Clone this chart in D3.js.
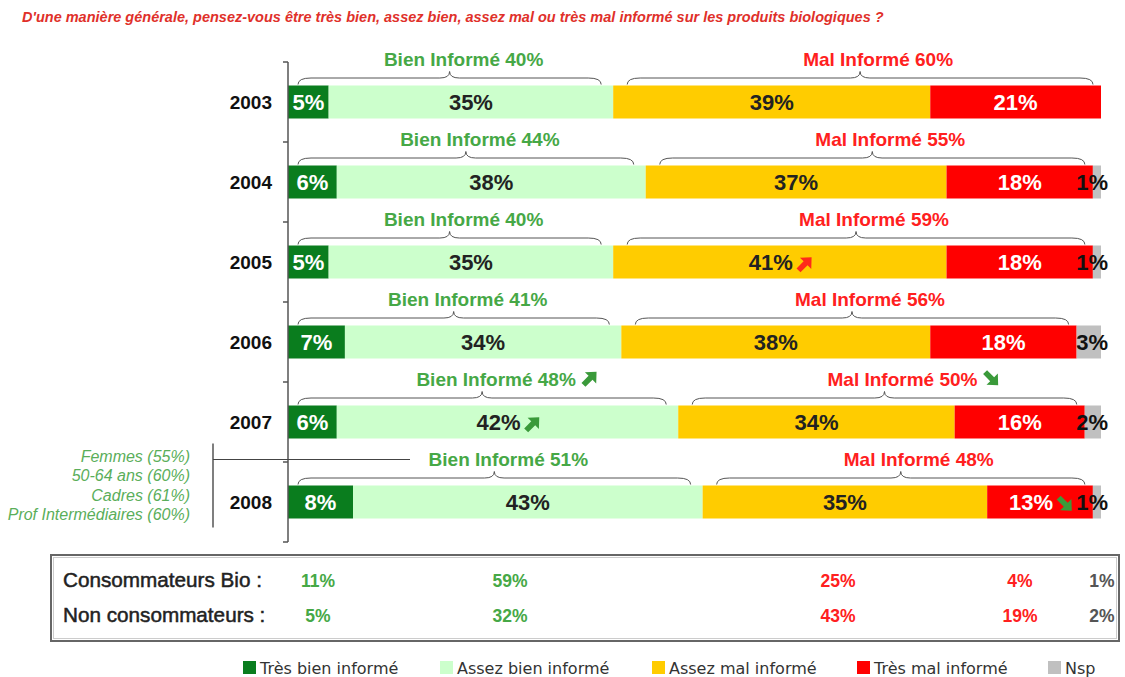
<!DOCTYPE html>
<html>
<head>
<meta charset="utf-8">
<script src="https://cdn.jsdelivr.net/npm/d3@7"></script>
<style>
  body { margin: 0; background: #fff; }
  svg text { font-family: "Liberation Sans", Arial, sans-serif; }
  svg text.legend { font-family: "DejaVu Sans", sans-serif; }
</style>
</head>
<body>
<div id="chart"></div>
<script>
var years = ['2003', '2004', '2005', '2006', '2007', '2008'];
var tresBien = [5, 6, 5, 7, 6, 8];
var assezBien = [35, 38, 35, 34, 42, 43];
var assezMal = [39, 37, 41, 38, 34, 35];
var tresMal = [21, 18, 18, 18, 16, 13];
var nsp = [0, 1, 1, 3, 2, 1];
var bienTotal = [40, 44, 40, 41, 48, 51];
var malTotal = [60, 55, 59, 56, 50, 48];

var seriesNames = ['Très bien informé', 'Assez bien informé', 'Assez mal informé', 'Très mal informé', 'Nsp'];
var tableRows = ['Consommateurs Bio :', 'Non consommateurs :'];
var tableBio = [11, 59, 25, 4, 1];
var tableNon = [5, 32, 43, 19, 2];
var profil2008 = ['Femmes (55%)', '50-64 ans (60%)', 'Cadres (61%)', 'Prof Intermédiaires (60%)'];

// arrows: which segment / brace label they follow, and direction
var arrows = [
  { year: '2005', on: 2, dir: 'up', color: '#ff2a1a' },
  { year: '2007', on: 'bien', dir: 'up', color: '#3a9a3a' },
  { year: '2007', on: 1, dir: 'up', color: '#3a9a3a' },
  { year: '2007', on: 'mal', dir: 'down', color: '#3a9a3a' },
  { year: '2008', on: 3, dir: 'down', color: '#3a9a3a' }
];

var keys = ['tb', 'ab', 'am', 'tm', 'ns'];
var colors = ['#0a7d1e', '#ccffcc', '#ffcc00', '#ff0000', '#c0c0c0'];
var textColors = ['#fff', '#222', '#222', '#fff', '#111'];

var rows = years.map(function(y, i) {
  return { year: y, tb: tresBien[i], ab: assezBien[i], am: assezMal[i], tm: tresMal[i], ns: nsp[i],
           bien: bienTotal[i], mal: malTotal[i] };
});

var width = 1125, height = 677;
var svg = d3.select('#chart').append('svg')
  .attr('width', width)
  .attr('height', height);

var x = d3.scaleLinear().domain([0, 100]).range([288, 1101]);
var y = d3.scaleBand().domain(years).range([62, 542])
  .paddingInner(0.5875).paddingOuter(0.29375);

// title
svg.append('text')
  .attr('x', 22).attr('y', 22)
  .attr('fill', '#e0302a')
  .attr('font-size', 14.5)
  .attr('font-weight', 'bold')
  .attr('font-style', 'italic')
  .text("D'une manière générale, pensez-vous être très bien, assez bien, assez mal ou très mal informé sur les produits biologiques ?");

// stacked bars
var stacked = d3.stack().keys(keys)(rows);

var layer = svg.selectAll('.layer').data(stacked).enter().append('g')
  .attr('fill', function(d, i) { return colors[i]; });

layer.selectAll('rect').data(function(d) { return d; }).enter().append('rect')
  .attr('x', function(d) { return x(d[0]); })
  .attr('y', function(d) { return y(d.data.year); })
  .attr('width', function(d) { return x(d[1]) - x(d[0]); })
  .attr('height', y.bandwidth());

// segment labels
var arrowAfter = {};
arrows.forEach(function(a) { arrowAfter[a.year + '-' + a.on] = a; });

stacked.forEach(function(s, k) {
  s.forEach(function(d) {
    var v = d[1] - d[0];
    if (v <= 0) return;
    var cx = (x(d[0]) + x(d[1])) / 2;
    var anchor = 'middle';
    if (k === 4) { cx = x(d[1]) + 7; anchor = 'end'; }
    var a = arrowAfter[d.data.year + '-' + k];
    if (a) cx -= 9;
    var t = svg.append('text')
      .attr('x', cx)
      .attr('y', y(d.data.year) + y.bandwidth() / 2 + 8)
      .attr('text-anchor', anchor)
      .attr('font-size', 22)
      .attr('font-weight', 'bold')
      .attr('fill', textColors[k])
      .text(v + '%');
    if (a) {
      var w = t.node().getComputedTextLength();
      drawArrow(cx + w / 2 + 12, y(d.data.year) + y.bandwidth() / 2 + 2, a);
    }
  });
});

// braces
function bracePath(x1, x2, yb, h) {
  var q = h / 2, mid = (x1 + x2) / 2;
  return 'M' + x1 + ',' + yb +
    'Q' + x1 + ',' + (yb - q) + ' ' + (x1 + q * 2) + ',' + (yb - q) +
    'L' + (mid - q * 1.5) + ',' + (yb - q) +
    'Q' + mid + ',' + (yb - q) + ' ' + mid + ',' + (yb - h) +
    'Q' + mid + ',' + (yb - q) + ' ' + (mid + q * 1.5) + ',' + (yb - q) +
    'L' + (x2 - q * 2) + ',' + (yb - q) +
    'Q' + x2 + ',' + (yb - q) + ' ' + x2 + ',' + yb;
}

rows.forEach(function(r) {
  var top = y(r.year);
  var groups = [
    { key: 'bien', x1: x(0) + 10, x2: x(r.bien) - 12, label: 'Bien Informé ' + r.bien + '%', color: '#46a846', dx: 14 },
    { key: 'mal', x1: x(r.bien) + 14, x2: x(r.bien + r.mal) - 8, label: 'Mal Informé ' + r.mal + '%', color: '#ff2020', dx: 18 }
  ];
  groups.forEach(function(g) {
    svg.append('path')
      .attr('d', bracePath(g.x1, g.x2, top - 1, 13))
      .attr('fill', 'none')
      .attr('stroke', '#555')
      .attr('stroke-width', 1);
    var cx = (g.x1 + g.x2) / 2 + g.dx;
    var t = svg.append('text')
      .attr('x', cx)
      .attr('y', top - 20)
      .attr('text-anchor', 'middle')
      .attr('font-size', 19)
      .attr('font-weight', 'bold')
      .attr('fill', g.color)
      .text(g.label);
    var a = arrowAfter[r.year + '-' + g.key];
    if (a) {
      var w = t.node().getComputedTextLength();
      drawArrow(cx + w / 2 + 14, top - 27, a);
    }
  });
});

function drawArrow(ax, ay, a) {
  var rot = a.dir === 'up' ? -45 : 45;
  svg.append('path')
    .attr('d', 'M-9,-2.8L1,-2.8L1,-8L9.5,0L1,8L1,2.8L-9,2.8Z')
    .attr('fill', a.color)
    .attr('transform', 'translate(' + ax + ',' + ay + ')rotate(' + rot + ')');
}

// axis
var axis = svg.append('g');
axis.append('line')
  .attr('x1', x(0)).attr('x2', x(0))
  .attr('y1', y.range()[0]).attr('y2', y.range()[1])
  .attr('stroke', '#555').attr('stroke-width', 1.5);
var bounds = years.map(function(d) { return y(d) - y.step() * y.paddingInner() / 2; });
bounds.push(y.range()[1]);
axis.selectAll('.tick').data(bounds).enter().append('line')
  .attr('x1', x(0) - 5).attr('x2', x(0))
  .attr('y1', function(d) { return d; }).attr('y2', function(d) { return d; })
  .attr('stroke', '#555').attr('stroke-width', 1.5);

axis.selectAll('.year').data(years).enter().append('text')
  .attr('x', 272)
  .attr('y', function(d) { return y(d) + y.bandwidth() / 2 + 7; })
  .attr('text-anchor', 'end')
  .attr('font-size', 19)
  .attr('font-weight', 'bold')
  .attr('fill', '#111')
  .text(function(d) { return d; });

// 2008 profile annotation
var y08 = y('2008');
svg.append('line')
  .attr('x1', 213).attr('x2', 213)
  .attr('y1', y08 - 42).attr('y2', y08 + 42)
  .attr('stroke', '#555').attr('stroke-width', 1.5);
svg.append('line')
  .attr('x1', 213).attr('x2', 410)
  .attr('y1', y08 - 26).attr('y2', y08 - 26)
  .attr('stroke', '#444').attr('stroke-width', 1);
svg.selectAll('.profil').data(profil2008).enter().append('text')
  .attr('x', 190)
  .attr('y', function(d, i) { return y08 - 24 + i * 19.5; })
  .attr('text-anchor', 'end')
  .attr('font-size', 16)
  .attr('font-style', 'italic')
  .attr('fill', '#5aae5a')
  .text(function(d) { return d; });

// table
var tbl = svg.append('g');
tbl.append('rect')
  .attr('x', 51).attr('y', 555).attr('width', 1068).attr('height', 86)
  .attr('fill', '#fff').attr('stroke', '#666').attr('stroke-width', 2);
tbl.append('rect')
  .attr('x', 53.5).attr('y', 557.5).attr('width', 1063).attr('height', 81)
  .attr('fill', 'none').attr('stroke', '#ccc').attr('stroke-width', 1);

var colX = [318, 510, 838, 1020, 1102];
var colColors = ['#46a846', '#46a846', '#ff2020', '#ff2020', '#555'];
[tableBio, tableNon].forEach(function(vals, r) {
  var ty = 587 + r * 35;
  tbl.append('text')
    .attr('x', 63).attr('y', ty)
    .attr('font-size', 20.7)
    .attr('fill', '#222')
    .attr('stroke', '#222')
    .attr('stroke-width', 0.5)
    .text(tableRows[r]);
  tbl.selectAll('.v' + r).data(vals).enter().append('text')
    .attr('x', function(d, i) { return colX[i]; })
    .attr('y', ty)
    .attr('text-anchor', 'middle')
    .attr('font-size', 17.5)
    .attr('font-weight', 'bold')
    .attr('fill', function(d, i) { return colColors[i]; })
    .text(function(d) { return d + '%'; });
});

// legend
var legX = [243, 440, 652, 857, 1048];
var leg = svg.selectAll('.leg').data(seriesNames).enter().append('g')
  .attr('transform', function(d, i) { return 'translate(' + legX[i] + ',661)'; });
leg.append('rect')
  .attr('width', 13).attr('height', 13)
  .attr('fill', function(d, i) { return colors[i]; });
leg.append('text')
  .attr('class', 'legend')
  .attr('x', 17).attr('y', 12.5)
  .attr('font-size', 16)
  .attr('fill', '#333')
  .text(function(d) { return d; });
</script>
</body>
</html>
